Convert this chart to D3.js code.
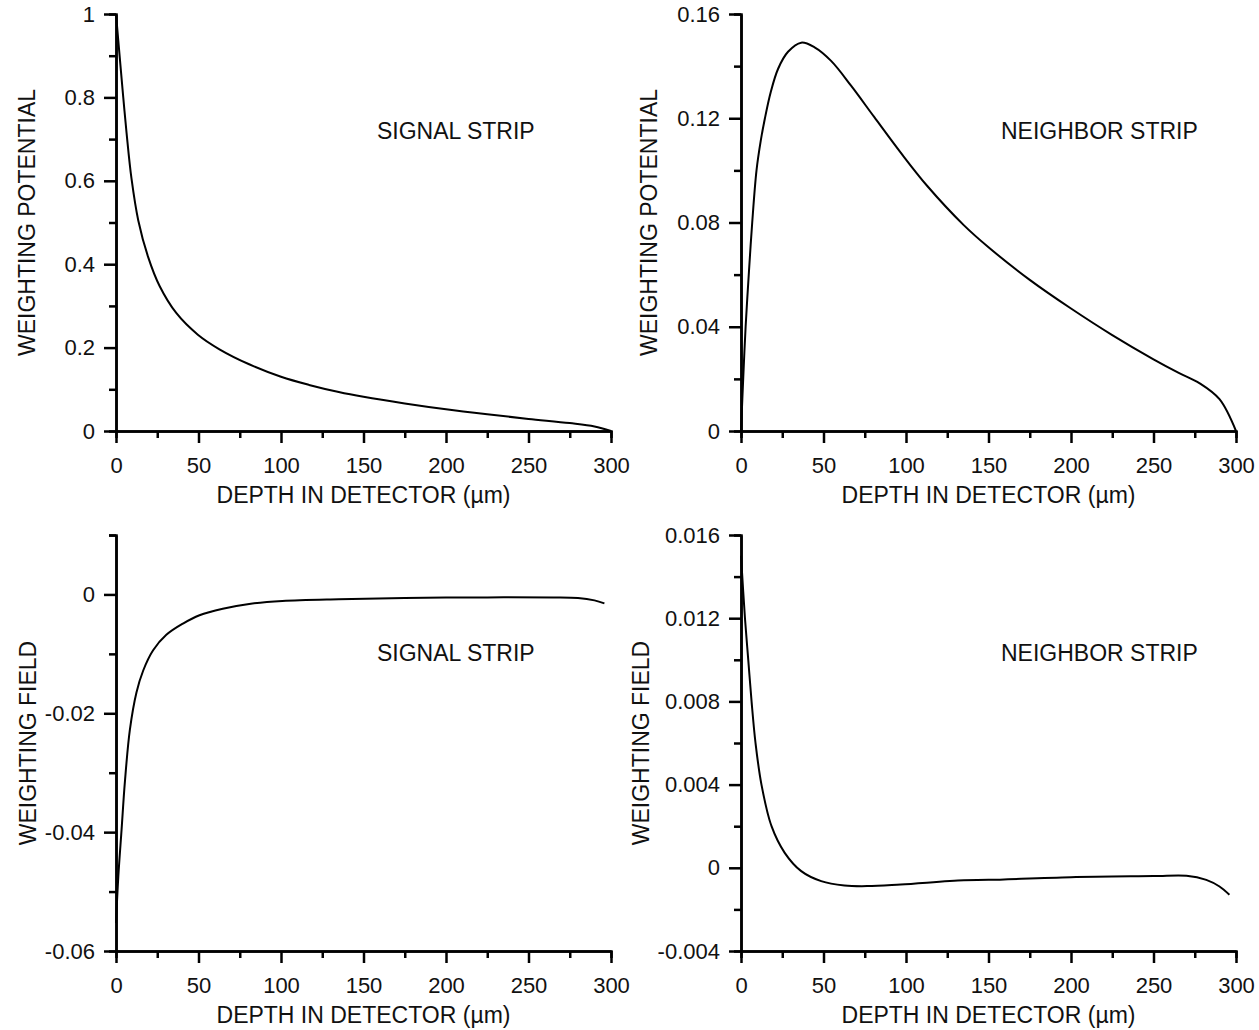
<!DOCTYPE html>
<html>
<head>
<meta charset="utf-8">
<script src="https://cdn.jsdelivr.net/npm/d3@7"></script>
<style>
  body { margin: 0; background: #fff; }
  svg { font-family: "Liberation Sans", Arial, sans-serif; }
</style>
</head>
<body>
<svg width="1259" height="1030"></svg>
<script>
// depth values (um) and curve values
let depthSigPot = [0, 2.4, 4.4, 6.4, 9.4, 13.5, 19.5, 26.5, 36.5, 49.6, 62.7, 80.7, 100, 117, 135, 150, 175, 200, 225, 250, 275, 290, 300]
let sigPot = [1.0, 0.89, 0.80, 0.715, 0.605, 0.505, 0.417, 0.347, 0.283, 0.231, 0.196, 0.160, 0.130, 0.1105, 0.0935, 0.082, 0.066, 0.052, 0.040, 0.029, 0.019, 0.011, 0]

let depthNbPot = [0, 1.4, 2.8, 4.8, 6.8, 9.4, 12, 14.5, 18, 22.5, 28.5, 36.5, 44.6, 54.6, 66.7, 80.7, 96.8, 112.9, 135, 150, 175, 200, 225, 250, 265, 278, 290, 300]
let nbPot = [0, 0.021, 0.040, 0.061, 0.080, 0.100, 0.1115, 0.120, 0.130, 0.139, 0.1455, 0.149, 0.1472, 0.1420, 0.1325, 0.1205, 0.1068, 0.0940, 0.0790, 0.0705, 0.0580, 0.0470, 0.0368, 0.0275, 0.0224, 0.0183, 0.0122, 0]

let depthSigField = [0, 1.4, 3.4, 5.4, 8.4, 12.4, 16.5, 22.5, 30.5, 40.6, 50.6, 64.7, 80.7, 100.8, 135, 175, 225, 265, 280, 290, 296]
let sigField = [-0.0553, -0.0475, -0.0395, -0.0315, -0.0228, -0.0165, -0.0128, -0.0094, -0.0068, -0.0049, -0.0035, -0.0024, -0.0016, -0.0011, -0.0008, -0.0006, -0.0005, -0.0005, -0.0006, -0.0010, -0.0015]

let depthNbField = [0, 2.4, 4.4, 6.4, 8.8, 12.4, 18.5, 26.5, 36.5, 48.6, 62.7, 76.7, 96.8, 135, 150, 200, 250, 270, 282, 290, 296]
let nbField = [0.0150, 0.012, 0.010, 0.008, 0.006, 0.004, 0.002, 0.00072, -0.00016, -0.00064, -0.00085, -0.00088, -0.0008, -0.0006, -0.00058, -0.00045, -0.0004, -0.00038, -0.00058, -0.0009, -0.0013]

let xTicks = [0, 50, 100, 150, 200, 250, 300]
let xMinor = [25, 75, 125, 175, 225, 275]

let svg = d3.select("svg")

let panels = [
  { x: depthSigPot, y: sigPot, left: 116, top: 14, bottom: 431, domain: [0, 1],
    ticks: [0, 0.2, 0.4, 0.6, 0.8, 1], minor: [0.1, 0.3, 0.5, 0.7, 0.9],
    ylabel: "WEIGHTING POTENTIAL", ylabX: 35, note: "SIGNAL STRIP", noteX: 377, noteY: 139 },
  { x: depthNbPot, y: nbPot, left: 741, top: 14, bottom: 431, domain: [0, 0.16],
    ticks: [0, 0.04, 0.08, 0.12, 0.16], minor: [0.02, 0.06, 0.10, 0.14],
    ylabel: "WEIGHTING POTENTIAL", ylabX: 657, note: "NEIGHBOR STRIP", noteX: 1001, noteY: 139 },
  { x: depthSigField, y: sigField, left: 116, top: 535, bottom: 951, domain: [-0.06, 0.01],
    ticks: [-0.06, -0.04, -0.02, 0], minor: [-0.05, -0.03, -0.01, 0.01],
    ylabel: "WEIGHTING FIELD", ylabX: 36, note: "SIGNAL STRIP", noteX: 377, noteY: 661 },
  { x: depthNbField, y: nbField, left: 741, top: 535, bottom: 951, domain: [-0.004, 0.016],
    ticks: [-0.004, 0, 0.004, 0.008, 0.012, 0.016], minor: [-0.002, 0.002, 0.006, 0.010, 0.014],
    ylabel: "WEIGHTING FIELD", ylabX: 649, note: "NEIGHBOR STRIP", noteX: 1001, noteY: 661 }
]

let fmt = d => String(+d.toFixed(4))

let styleAxis = g => {
  g.select(".domain").attr("stroke", "#000").attr("stroke-width", 2.5)
  g.selectAll(".tick line").attr("stroke", "#000").attr("stroke-width", 2.5)
  g.selectAll(".tick text").attr("fill", "#111").style("font-size", "22px")
}

panels.forEach(p => {
  let x = d3.scaleLinear().domain([0, 300]).range([p.left, p.left + 495])
  let y = d3.scaleLinear().domain(p.domain).range([p.bottom, p.top])

  // minor ticks first, so the major axis sits on top
  svg.append("g")
      .attr("transform", `translate(0,${p.bottom})`)
      .call(d3.axisBottom(x).tickValues(xMinor).tickSize(7).tickFormat(""))
      .call(styleAxis)
  svg.append("g")
      .attr("transform", `translate(${p.left},0)`)
      .call(d3.axisLeft(y).tickValues(p.minor).tickSize(7).tickFormat(""))
      .call(styleAxis)

  svg.append("g")
      .attr("transform", `translate(0,${p.bottom})`)
      .call(d3.axisBottom(x).tickValues(xTicks).tickSize(12).tickPadding(14).tickSizeOuter(0))
      .call(styleAxis)
  svg.append("g")
      .attr("transform", `translate(${p.left},0)`)
      .call(d3.axisLeft(y).tickValues(p.ticks).tickSize(12).tickPadding(9).tickSizeOuter(0).tickFormat(fmt))
      .call(styleAxis)

  let line = d3.line()
      .x((d, i) => x(p.x[i]))
      .y(d => y(d))
      .curve(d3.curveCatmullRom.alpha(0.5))

  svg.append("path")
      .datum(p.y)
      .attr("d", line)
      .attr("fill", "none")
      .attr("stroke", "#000")
      .attr("stroke-width", 2)

  svg.append("text")
      .attr("x", p.left + 247.5)
      .attr("y", p.bottom + 72)
      .attr("text-anchor", "middle")
      .style("font-size", "23px")
      .attr("fill", "#111")
      .text("DEPTH IN DETECTOR (\u00b5m)")

  svg.append("text")
      .attr("transform", `translate(${p.ylabX},${(p.top + p.bottom) / 2}) rotate(-90)`)
      .attr("text-anchor", "middle")
      .style("font-size", "23px")
      .attr("fill", "#111")
      .text(p.ylabel)

  svg.append("text")
      .attr("x", p.noteX)
      .attr("y", p.noteY)
      .style("font-size", "23px")
      .attr("fill", "#111")
      .text(p.note)
})
</script>
</body>
</html>
